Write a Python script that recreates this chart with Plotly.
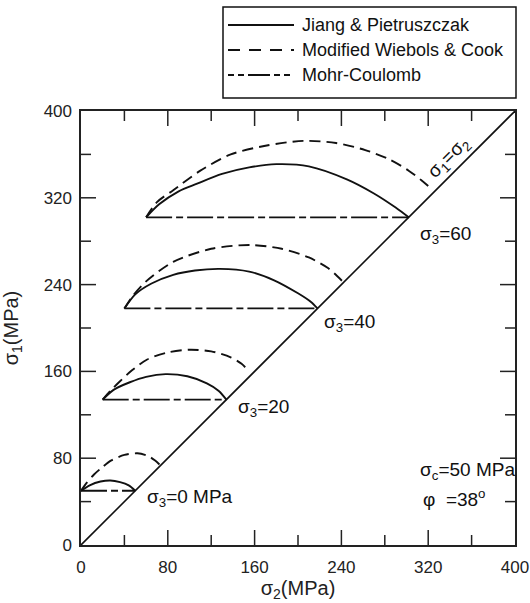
import plotly.graph_objects as go

# ---- data (MPa) ----
sigma3_levels = [0, 20, 40, 60]
mc_sigma1 = [50, 134, 218, 302]          # Mohr-Coulomb sigma1 (constant with sigma2)
mc_sigma2_end = [50, 134, 218, 302]      # MC line runs from sigma2=sigma3 to sigma2=sigma1

jp_s2 = [
    [0, 8, 18, 27, 36, 44, 50],
    [20, 30, 45, 60, 78, 98, 116, 127, 134],
    [40, 50, 65, 85, 105, 128, 155, 178, 200, 212, 218],
    [60, 72, 90, 107, 130, 155, 180, 210, 245, 270, 290, 302],
]
jp_s1 = [
    [50, 55, 58.5, 59.5, 58, 55, 50],
    [134, 143, 150, 155, 157.5, 155.5, 149, 142, 134],
    [218, 231, 241, 249, 253, 254.5, 252, 244, 232, 224, 218],
    [302, 314, 326, 333, 342, 348, 351, 349, 337, 324, 311, 302],
]

mwc_s2 = [
    [0, 5, 12, 20, 28, 40, 52, 62, 68, 73],
    [20, 27, 35, 47, 61, 80, 100, 120, 138, 148, 154],
    [40, 48, 60, 85, 120, 156, 185, 210, 228, 237, 242],
    [60, 70, 85, 110, 138, 170, 205, 235, 262, 285, 302, 314, 321],
]
mwc_s1 = [
    [50, 57, 65, 72, 78, 83, 84.5, 82, 78, 73.5],
    [134, 142, 150, 161, 171, 177.5, 180, 178.5, 173, 167, 161],
    [218, 230, 243, 261, 273, 276.5, 273, 265, 255, 247, 242],
    [302, 316, 327, 345, 360, 368, 372.5, 370.5, 364, 355, 345, 336, 330],
]

diag = [0, 400]
axis_range = [0, 400]
major_ticks = [0, 80, 160, 240, 320, 400]
minor_ticks = [40, 120, 200, 280, 360]

series_names = ["Jiang & Pietruszczak", "Modified Wiebols & Cook", "Mohr-Coulomb"]

FONT = "Arial, Liberation Sans, sans-serif"
BLACK = "#111111"
AXC = "#222222"
DASH = "11px,6px"
DASHDOT = "26px,4px,7px,4px"

W, H = 530, 603
ML, MR, MT, MB = 81, 15, 111, 58
PW, PH = W - ML - MR, H - MT - MB

fig = go.Figure()

# diagonal sigma1 = sigma2
fig.add_trace(go.Scatter(x=diag, y=diag, mode="lines",
                         line=dict(color=BLACK, width=1.6), showlegend=False))

for i, s3 in enumerate(sigma3_levels):
    fig.add_trace(go.Scatter(x=[s3, mc_sigma2_end[i]], y=[mc_sigma1[i], mc_sigma1[i]],
                             mode="lines", name=series_names[2], showlegend=False,
                             line=dict(color=BLACK, width=1.8, dash=DASHDOT)))
    fig.add_trace(go.Scatter(x=jp_s2[i], y=jp_s1[i], mode="lines", name=series_names[0],
                             showlegend=False,
                             line=dict(color=BLACK, width=1.9, shape="spline", smoothing=0.8)))
    fig.add_trace(go.Scatter(x=mwc_s2[i], y=mwc_s1[i], mode="lines", name=series_names[1],
                             showlegend=False,
                             line=dict(color=BLACK, width=1.9, dash=DASH, shape="spline", smoothing=0.8)))

shapes = []
# ---- inside ticks on all four sides (built from the tick lists) ----
for vals, ln in ((major_ticks, 15), (minor_ticks, 10)):
    for v in vals:
        if v in (0, 400):
            continue
        tl = dict(color=AXC, width=1.5)
        shapes.append(dict(type="line", xref="x", yref="paper", ysizemode="pixel", yanchor=0,
                           x0=v, x1=v, y0=0, y1=ln, line=tl))
        shapes.append(dict(type="line", xref="x", yref="paper", ysizemode="pixel", yanchor=1,
                           x0=v, x1=v, y0=0, y1=-ln, line=tl))
        shapes.append(dict(type="line", yref="y", xref="paper", xsizemode="pixel", xanchor=0,
                           y0=v, y1=v, x0=0, x1=ln, line=tl))
        shapes.append(dict(type="line", yref="y", xref="paper", xsizemode="pixel", xanchor=1,
                           y0=v, y1=v, x0=0, x1=-ln, line=tl))

# ---- legend box (drawn manually to mimic the original) ----
px2x = lambda px: (px - ML) / PW
py2y = lambda py: (MT + PH - py) / PH
shapes.append(dict(type="rect", xref="paper", yref="paper",
                   x0=px2x(223), x1=px2x(516), y0=py2y(98), y1=py2y(7),
                   line=dict(color=BLACK, width=1.5), fillcolor="white", layer="above"))
leg_rows = [25, 50, 75]
leg_dash = ["solid", "12px,9px", "6px,4px,6px,4px,22px,4px,6px,4px,6px,30px"]
for name, row, dsh in zip(series_names, leg_rows, leg_dash):
    shapes.append(dict(type="line", xref="paper", yref="paper",
                       x0=px2x(228), x1=px2x(294), y0=py2y(row), y1=py2y(row),
                       line=dict(color=BLACK, width=1.8, dash=dsh)))
annotations = []
for name, row in zip(series_names, leg_rows):
    annotations.append(dict(xref="paper", yref="paper", x=px2x(300), y=py2y(row),
                            text=name, showarrow=False, xanchor="left", yanchor="middle",
                            font=dict(family=FONT, size=18, color=BLACK)))

# ---- text labels in data coordinates ----
labels = [
    (311, 286, "σ<sub>3</sub>=60", 0, "left"),
    (222, 205, "σ<sub>3</sub>=40", 0, "left"),
    (143, 126, "σ<sub>3</sub>=20", 0, "left"),
    (59, 43, "σ<sub>3</sub>=0 MPa", 0, "left"),
    (311, 68, "σ<sub>c</sub>=50 MPa", 0, "left"),
    (313, 43, "φ  =38<sup>o</sup>", 0, "left"),
    (339, 357, "σ<sub>1</sub>=σ<sub>2</sub>", -45, "center"),
]
for x, y, t, ang, xa in labels:
    annotations.append(dict(x=x, y=y, xref="x", yref="y", text=t, showarrow=False,
                            textangle=ang, xanchor=xa, yanchor="middle",
                            font=dict(family=FONT, size=19, color=BLACK)))

axis_common = dict(
    range=axis_range, tickmode="array", tickvals=major_ticks,
    ticktext=[str(v) for v in major_ticks], ticks="",
    showline=True, linecolor=AXC, linewidth=1.6, mirror=True,
    showgrid=False, zeroline=False, automargin=False,
    tickfont=dict(family=FONT, size=17, color=AXC),
    fixedrange=True,
)

fig.update_layout(
    width=W, height=H,
    margin=dict(l=ML, r=MR, t=MT, b=MB, autoexpand=False),
    paper_bgcolor="white", plot_bgcolor="white",
    showlegend=False,
    hovermode=False,
    xaxis=dict(axis_common, ticklabelstandoff=6,
               title=dict(text="σ<sub>2</sub>(MPa)", standoff=4,
                          font=dict(family=FONT, size=20, color=AXC))),
    yaxis=dict(axis_common, ticklabelstandoff=4,
               title=dict(text="σ<sub>1</sub>(MPa)", standoff=20,
                          font=dict(family=FONT, size=20, color=AXC))),
    shapes=shapes,
    annotations=annotations,
)

fig.write_html("out.html",
               config={"displayModeBar": False, "staticPlot": True},
               post_script="document.body.style.margin='0';document.body.style.overflow='hidden';")
